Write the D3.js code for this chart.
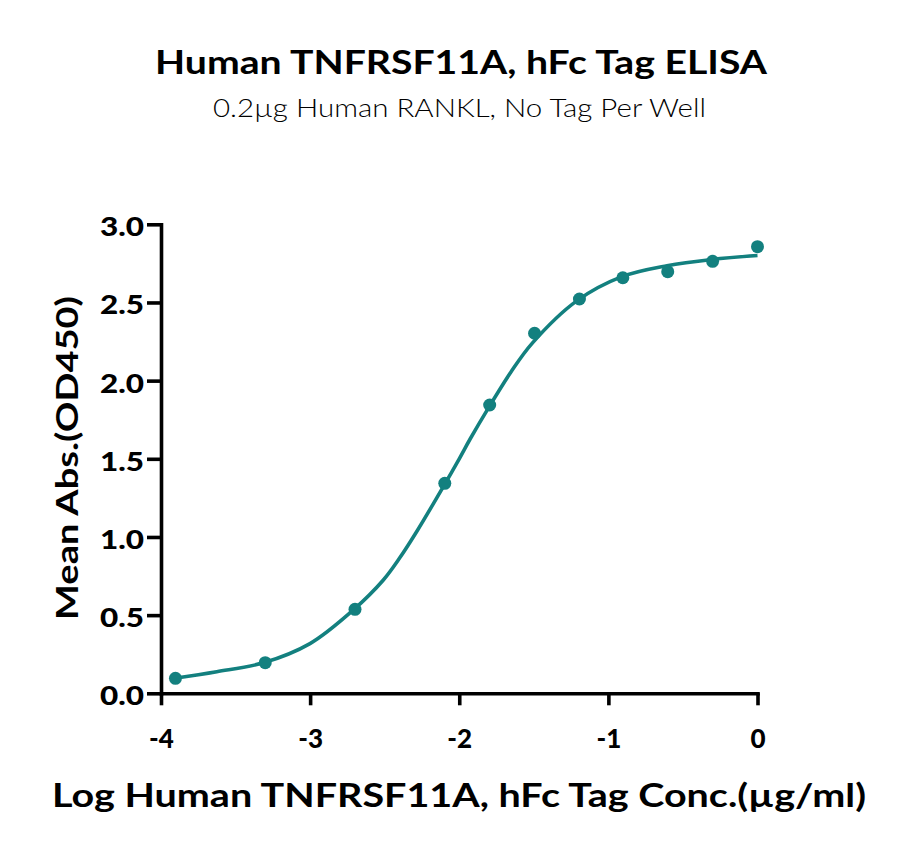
<!DOCTYPE html>
<html>
<head>
<meta charset="utf-8">
<script src="https://cdn.jsdelivr.net/npm/d3@7"></script>
<style>
  html, body { margin: 0; padding: 0; background: #fff; }
  svg { display: block; }
  text { font-family: Lato, "Open Sans", sans-serif; fill: #000; }
</style>
</head>
<body>
<svg id="chart" width="900" height="848"></svg>
<script>
// ---- data ----
const logConc = [-3.903, -3.301, -2.699, -2.097, -1.796, -1.495, -1.194, -0.903, -0.602, -0.301, 0];
const meanAbs = [0.096, 0.196, 0.537, 1.343, 1.844, 2.303, 2.522, 2.658, 2.697, 2.763, 2.857];

// fitted curve
const fitX = [-3.920, -3.626, -3.314, -3.001, -2.714, -2.509, -2.400, -2.285, -2.111, -2.000, -1.928, -1.809, -1.650, -1.510, -1.212, -0.909, -0.607, -0.305, 0.0];
const fitY = [0.095, 0.138, 0.195, 0.318, 0.530, 0.725, 0.865, 1.035, 1.315, 1.500, 1.625, 1.818, 2.060, 2.240, 2.510, 2.665, 2.735, 2.775, 2.800];

const xTicks = [-4, -3, -2, -1, 0];
const yTicks = [0.0, 0.5, 1.0, 1.5, 2.0, 2.5, 3.0];

const titleText = "Human TNFRSF11A, hFc Tag ELISA";
const subtitleText = "0.2\u00b5g Human RANKL, No Tag Per Well";
const xTitleText = "Log Human TNFRSF11A, hFc Tag Conc.(\u00b5g/ml)";
const yTitleText = "Mean Abs.(OD450)";

// ---- layout ----
const teal = "#13807f";
const svg = d3.select("#chart");

const x = d3.scaleLinear().domain([-4, 0]).range([161, 757.5]);
const y = d3.scaleLinear().domain([0, 3]).range([693.3, 224.3]);

// titles
svg.append("text")
  .attr("x", 461).attr("y", 74)
  .attr("text-anchor", "middle")
  .attr("font-size", 32).attr("font-weight", 700)
  .attr("textLength", 612).attr("lengthAdjust", "spacingAndGlyphs")
  .text(titleText);

svg.append("text")
  .attr("x", 459.5).attr("y", 117)
  .attr("text-anchor", "middle")
  .attr("font-size", 25).attr("font-weight", 300)
  .attr("textLength", 493).attr("lengthAdjust", "spacingAndGlyphs")
  .text(subtitleText);

// axes
const xAxis = d3.axisBottom(x).tickValues(xTicks).tickSize(12).tickSizeOuter(0)
  .tickFormat(d => d3.format("d")(d).replace("\u2212", "-"));
const yAxis = d3.axisLeft(y).tickValues(yTicks).tickSize(14).tickSizeOuter(0)
  .tickFormat(d3.format(".1f"));

const gx = svg.append("g").attr("transform", `translate(0,${y(0)})`).call(xAxis);
const gy = svg.append("g").attr("transform", `translate(${x(-4)},0)`).call(yAxis);

[gx, gy].forEach(g => {
  g.select(".domain").attr("stroke", "#000").attr("stroke-width", 3.6).attr("stroke-linecap", "square");
  g.selectAll(".tick line").attr("stroke", "#000").attr("stroke-width", 3.6);
  g.selectAll(".tick text")
    .attr("font-family", "Lato, sans-serif")
    .attr("font-size", 26).attr("font-weight", 900).attr("fill", "#000");
});
gx.selectAll(".tick text").attr("dy", null).attr("y", 0).attr("transform", "translate(0,55)");
gy.selectAll(".tick text").attr("x", -17).attr("dy", "0.44em")
  .attr("textLength", 44).attr("lengthAdjust", "spacingAndGlyphs");

// axis titles
svg.append("text")
  .attr("x", 459).attr("y", 807)
  .attr("text-anchor", "middle")
  .attr("font-size", 32).attr("font-weight", 700)
  .attr("textLength", 814).attr("lengthAdjust", "spacingAndGlyphs")
  .text(xTitleText);

svg.append("text")
  .attr("transform", `translate(78,458) rotate(-90)`)
  .attr("text-anchor", "middle")
  .attr("font-size", 31).attr("font-weight", 700)
  .attr("textLength", 324).attr("lengthAdjust", "spacingAndGlyphs")
  .text(yTitleText);

// fitted curve
const fitPts = fitX.map((v, i) => [v, fitY[i]]);
svg.append("path")
  .datum(fitPts)
  .attr("fill", "none")
  .attr("stroke", teal)
  .attr("stroke-width", 3.6)
  .attr("d", d3.line().x(d => x(d[0])).y(d => y(d[1])).curve(d3.curveCatmullRom.alpha(0.5)));

// points
const pts = logConc.map((v, i) => [v, meanAbs[i]]);
svg.append("g").selectAll("circle")
  .data(pts).join("circle")
  .attr("cx", d => x(d[0]))
  .attr("cy", d => y(d[1]))
  .attr("r", 6.5)
  .attr("fill", teal);
</script>
</body>
</html>
